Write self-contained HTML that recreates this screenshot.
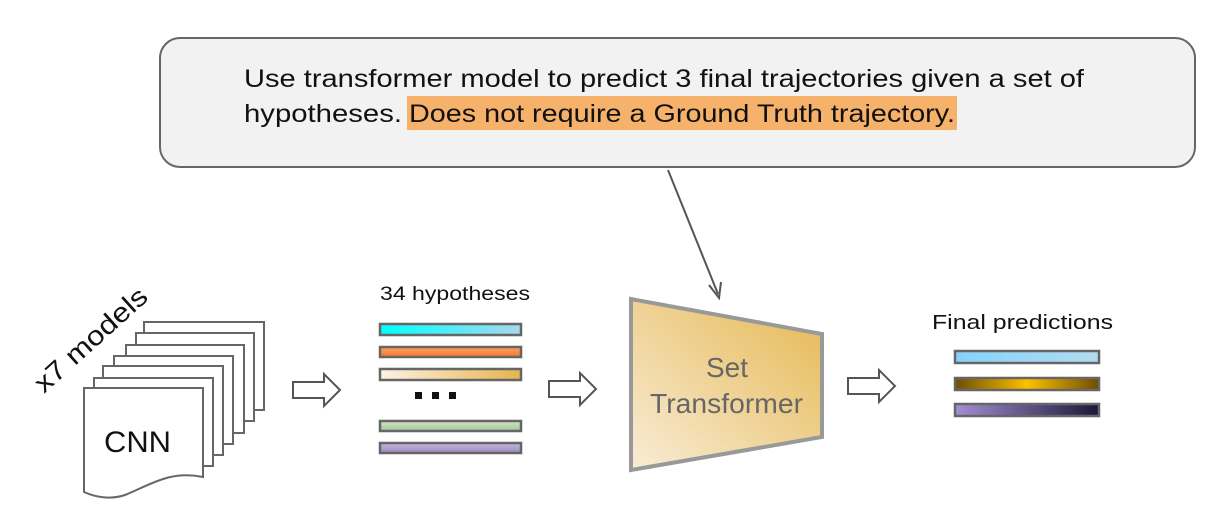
<!DOCTYPE html>
<html><head><meta charset="utf-8"><style>body{margin:0;background:#fff}svg{display:block}</style></head><body>
<svg width="1228" height="528" viewBox="0 0 1228 528" xmlns="http://www.w3.org/2000/svg" font-family="Liberation Sans, sans-serif">
<defs>
<linearGradient id="tg" x1="0" y1="1" x2="1" y2="0"><stop offset="0" stop-color="#f9ecd6"/><stop offset="1" stop-color="#e5b853"/></linearGradient>
<linearGradient id="b1"><stop offset="0" stop-color="#00ffff"/><stop offset="1" stop-color="#a8d8ee"/></linearGradient>
<linearGradient id="b2" x1="0" y1="0" x2="0" y2="1"><stop offset="0" stop-color="#ffa060"/><stop offset="1" stop-color="#f07a30"/></linearGradient>
<linearGradient id="b3"><stop offset="0" stop-color="#fdf3e4"/><stop offset="1" stop-color="#e4b44e"/></linearGradient>
<linearGradient id="b4" x1="0" y1="0" x2="0" y2="1"><stop offset="0" stop-color="#cfe5c6"/><stop offset="1" stop-color="#a4c896"/></linearGradient>
<linearGradient id="b5" x1="0" y1="0" x2="0" y2="1"><stop offset="0" stop-color="#c4b6dc"/><stop offset="1" stop-color="#9c8cc0"/></linearGradient>
<linearGradient id="f1"><stop offset="0" stop-color="#86d2fb"/><stop offset="1" stop-color="#b2dcef"/></linearGradient>
<linearGradient id="f2"><stop offset="0" stop-color="#6b4e00"/><stop offset="0.5" stop-color="#fcc000"/><stop offset="1" stop-color="#6b4e00"/></linearGradient>
<linearGradient id="f3"><stop offset="0" stop-color="#a48fd4"/><stop offset="1" stop-color="#1c1838"/></linearGradient>
</defs>
<rect x="160" y="38" width="1035" height="129" rx="20" fill="#f2f2f2" stroke="#666" stroke-width="2"/>
<rect x="407" y="96" width="550" height="34" fill="#f6b26b"/>
<text x="244" y="87" font-size="25" fill="#111" textLength="840" lengthAdjust="spacingAndGlyphs">Use transformer model to predict 3 final trajectories given a set of</text>
<text x="244" y="122" font-size="25" fill="#111" textLength="158" lengthAdjust="spacingAndGlyphs">hypotheses.</text>
<text x="409" y="122" font-size="25" fill="#111" textLength="546" lengthAdjust="spacingAndGlyphs">Does not require a Ground Truth trajectory.</text>
<line x1="668" y1="170" x2="718" y2="294" stroke="#555" stroke-width="2"/>
<polyline points="709,285 719,298 721,282" fill="none" stroke="#555" stroke-width="2"/>
<g fill="#fff" stroke="#666" stroke-width="2">
<rect x="144" y="322" width="120" height="88"/>
<rect x="136" y="333" width="118" height="88"/>
<rect x="126" y="345" width="118" height="88"/>
<rect x="114" y="356" width="119" height="88"/>
<rect x="103" y="366" width="120" height="89"/>
<rect x="94" y="378" width="119" height="88"/>
<path d="M84,388 H203 V477 C170,470 150,485 125,495 C110,500 95,497 84,492 Z"/>
</g>
<text x="104" y="452" font-size="30" fill="#111" textLength="67" lengthAdjust="spacingAndGlyphs">CNN</text>
<text transform="translate(44,394) rotate(-42)" font-size="27" fill="#111" textLength="142" lengthAdjust="spacingAndGlyphs">x7 models</text>
<g fill="#fff" stroke="#555" stroke-width="2">
<path d="M293,382 H324 V374 L340,390 L324,406 V398 H293 Z"/>
<path d="M549,381 H580 V373 L596,389 L580,405 V397 H549 Z"/>
<path d="M848,378 H879 V370 L895,386 L879,402 V394 H848 Z"/>
</g>
<text x="380" y="300" font-size="19" fill="#111" textLength="150" lengthAdjust="spacingAndGlyphs">34 hypotheses</text>
<g stroke="#666" stroke-width="2.5">
<rect x="380" y="324" width="141" height="11" fill="url(#b1)"/>
<rect x="380" y="347" width="141" height="10" fill="url(#b2)"/>
<rect x="380" y="369" width="141" height="11" fill="url(#b3)"/>
<rect x="380" y="421" width="141" height="10" fill="url(#b4)"/>
<rect x="380" y="443" width="141" height="10" fill="url(#b5)"/>
</g>
<g fill="#111"><rect x="415" y="392" width="7" height="7"/><rect x="432" y="392" width="7" height="7"/><rect x="449" y="392" width="7" height="7"/></g>
<polygon points="631,299 822,334 822,437 631,470" fill="url(#tg)" stroke="#999" stroke-width="4"/>
<text x="727" y="377" font-size="28" fill="#666" text-anchor="middle">Set</text>
<text x="650" y="413" font-size="28" fill="#666" textLength="153" lengthAdjust="spacingAndGlyphs">Transformer</text>
<text x="932" y="329" font-size="20" fill="#111" textLength="181" lengthAdjust="spacingAndGlyphs">Final predictions</text>
<g stroke="#666" stroke-width="2.5">
<rect x="955" y="351" width="144" height="12" fill="url(#f1)"/>
<rect x="955" y="378" width="144" height="12" fill="url(#f2)"/>
<rect x="955" y="404" width="144" height="12" fill="url(#f3)"/>
</g>
</svg>
</body></html>
